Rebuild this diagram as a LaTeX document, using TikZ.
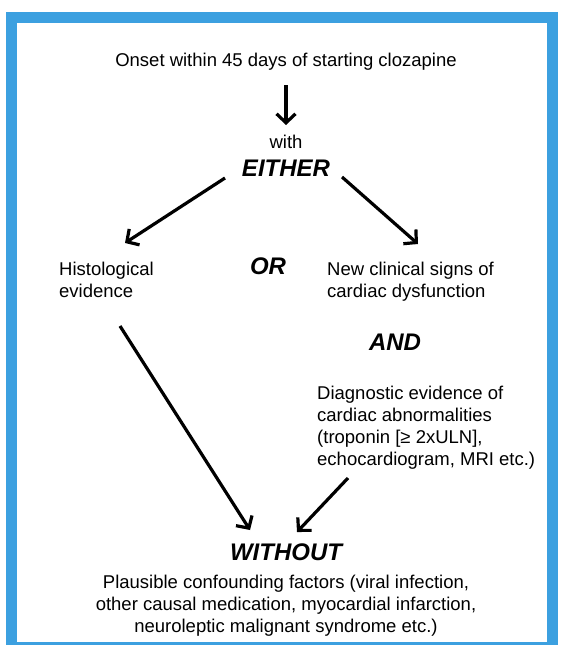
\documentclass[tikz,border=0pt]{standalone}
\usepackage{fontspec}
\setmainfont{Liberation Sans}
\usetikzlibrary{arrows.meta}
\definecolor{frameblue}{RGB}{60,160,224}
\tikzset{
  txt/.style={inner sep=0pt, font=\fontsize{18.5}{22}\selectfont},
  keyword/.style={inner sep=0pt, font=\fontsize{24}{28}\selectfont\bfseries\itshape},
  arr/.style={line width=3.2pt, -{Straight Barb[length=9pt,width=19pt]}}
}
\begin{document}
\begin{tikzpicture}[x=1pt, y=-1pt]
\useasboundingbox (0,0) rectangle (560,645);
\clip (0,0) rectangle (560,645);
\draw[frameblue, line width=11pt] (11.5,17.5) rectangle (552.5,647);

\node[txt, anchor=base] (onset) at (286,66.5) {Onset within 45 days of starting clozapine};
\node[txt, anchor=base] (with) at (286,148) {with};
\node[keyword, anchor=base] (either) at (286,176) {EITHER};
\node[txt, anchor=base west, align=left] (histo) at (59,297) {Histological\\evidence};
\node[keyword, anchor=base] (orword) at (268,274) {OR};
\node[txt, anchor=base west, align=left] (clinical) at (327,297) {New clinical signs of\\cardiac dysfunction};
\node[keyword, anchor=base] (andword) at (395,350.5) {AND};
\node[txt, anchor=base west, align=left] (diagnostic) at (317,465)
    {Diagnostic evidence of\\cardiac abnormalities\\(troponin [≥ 2xULN],\\echocardiogram, MRI etc.)};
\node[keyword, anchor=base] (without) at (286,560) {WITHOUT};
\node[txt, anchor=base, align=center] (confound) at (286,632)
    {Plausible confounding factors (viral infection,\\other causal medication, myocardial infarction,\\neuroleptic malignant syndrome etc.)};

\coordinate (onset-out) at (286,85);
\coordinate (with-in) at (286,125);
\coordinate (either-l) at (225,178);
\coordinate (histo-in) at (125,243);
\coordinate (either-r) at (342,177);
\coordinate (clinical-in) at (418,244);
\coordinate (histo-out) at (120,326);
\coordinate (without-l) at (250,530);
\coordinate (diagnostic-out) at (348,478);
\coordinate (without-r) at (297,532);
\foreach \from/\to in {onset-out/with-in, either-l/histo-in, either-r/clinical-in,
    histo-out/without-l, diagnostic-out/without-r}
  \draw[arr] (\from) -- (\to);
\end{tikzpicture}
\end{document}
